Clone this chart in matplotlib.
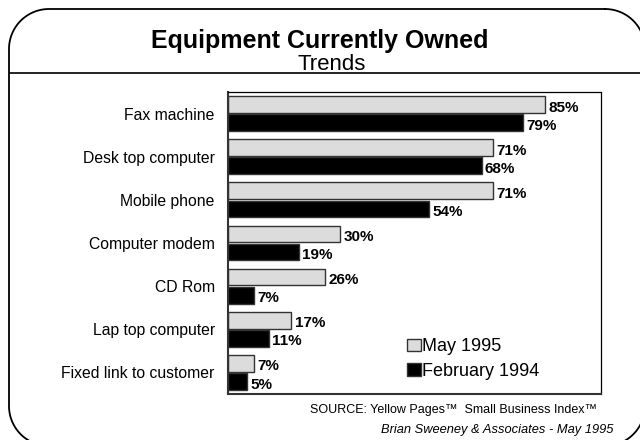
#!/usr/bin/env python3
"""Equipment Currently Owned - grouped horizontal bar chart, slide style."""

import matplotlib

matplotlib.use("Agg")
import matplotlib.pyplot as plt
import numpy as np
from matplotlib.patches import Patch

plt.rcParams["font.family"] = ["Liberation Sans", "DejaVu Sans"]

categories = [
    "Fax machine",
    "Desk top computer",
    "Mobile phone",
    "Computer modem",
    "CD Rom",
    "Lap top computer",
    "Fixed link to customer",
]
may_1995 = [85, 71, 71, 30, 26, 17, 7]
feb_1994 = [79, 68, 54, 19, 7, 11, 5]
series_names = ["May 1995", "February 1994"]

GREY = "#dcdcdc"
EDGE = "#333333"


def rounded_rect(x0, y0, x1, y1, r, n=30):
    """Outline of a rounded rectangle in pixel coords (y grows downward)."""
    pts = []
    corners = [
        (x1 - r, y0 + r, -90, 0),    # top right
        (x1 - r, y1 - r, 0, 90),     # bottom right
        (x0 + r, y1 - r, 90, 180),   # bottom left
        (x0 + r, y0 + r, 180, 270),  # top left
    ]
    for cx, cy, a0, a1 in corners:
        t = np.radians(np.linspace(a0, a1, n))
        pts.append(np.column_stack([cx + r * np.cos(t), cy + r * np.sin(t)]))
    pts = np.vstack(pts + [pts[0][:1]])
    return pts[:, 0], pts[:, 1]


fig = plt.figure(figsize=(6.4, 4.4), dpi=100, facecolor="white")

# slide frame, drawn in pixel units
bg = fig.add_axes([0, 0, 1, 1], zorder=0)
bg.set_xlim(0, 640)
bg.set_ylim(440, 0)
bg.axis("off")
fx, fy = rounded_rect(9, 9, 645, 446, 40)
bg.plot(fx, fy, color="black", linewidth=1.3)
bg.plot([10, 640], [73, 73], color="black", linewidth=1.2)
bg.text(320, 41, "Equipment Currently Owned", ha="center", va="center",
        fontsize=18, fontweight="bold")
bg.text(332, 64, "Trends", ha="center", va="center", fontsize=16)
bg.text(597, 410, "SOURCE: Yellow Pages\u2122  Small Business Index\u2122",
        ha="right", va="center", fontsize=9)
bg.text(613, 430, "Brian Sweeney & Associates - May 1995", ha="right",
        va="center", fontsize=9.3, style="italic")

# bar chart
ax = fig.add_axes([228 / 640, 1 - 394 / 440, 373 / 640, 302 / 440], zorder=1)
ax.patch.set_alpha(0)
y = np.arange(len(categories))
h = 0.39
b1 = ax.barh(y - 0.21, may_1995, height=h, color=GREY, edgecolor=EDGE, linewidth=1)
b2 = ax.barh(y + 0.21, feb_1994, height=h, color="black", edgecolor=EDGE, linewidth=1)

for bars, vals in ((b1, may_1995), (b2, feb_1994)):
    for bar, val in zip(bars, vals):
        ax.text(bar.get_width() + 0.9, bar.get_y() + bar.get_height() / 2 + 0.07,
                f"{val}%", va="center", ha="left", fontsize=11, fontweight="bold")

ax.set_xlim(0, 100)
ax.set_ylim(6.5, -0.5)
ax.set_yticks(y)
ax.set_yticklabels(categories, fontsize=11.3)
ax.set_xticks([])
ax.tick_params(left=False, pad=6)
for side in ("top", "right"):
    ax.spines[side].set_linewidth(0.9)
ax.spines["left"].set_linewidth(1.5)
ax.spines["bottom"].set_linewidth(1.5)
ax.spines["left"].set_color(EDGE)
ax.spines["bottom"].set_color(EDGE)

handles = [Patch(facecolor=GREY, edgecolor=EDGE), Patch(facecolor="black", edgecolor=EDGE)]
ax.legend(handles, series_names, loc="lower left", bbox_to_anchor=(0.447, 0.005),
          frameon=False, fontsize=13, handlelength=0.75, handleheight=0.7,
          handletextpad=0.05, labelspacing=0.42, borderpad=0.2)

fig.savefig("out.png", dpi=100, facecolor="white")
